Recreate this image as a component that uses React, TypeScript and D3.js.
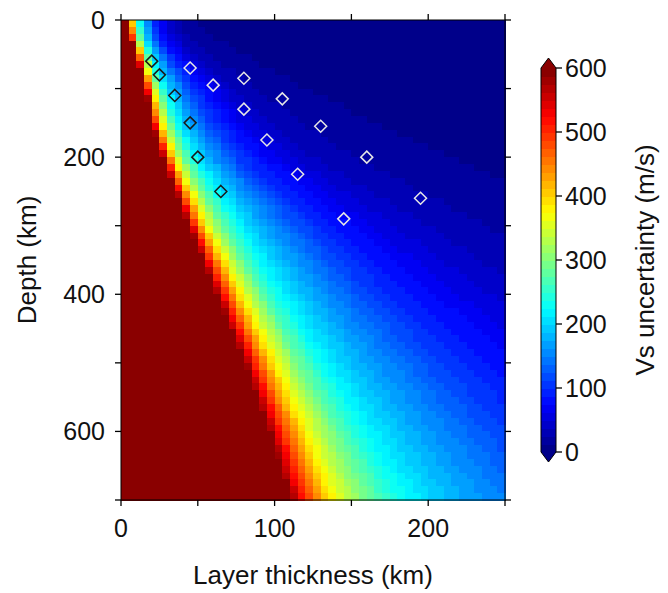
import React from "react";
import * as d3 from "d3";

// Depth knots (km) at which contour positions were read
const depthKnots = [0, 25, 50, 100, 150, 200, 300, 400, 500, 600, 700];
// Vs-uncertainty levels (m/s) of the read contours
const levels = [600, 375, 225, 150, 75, 37.5, 12.5];
// Layer thickness (km) where each level is reached, at each depth knot
const contour600 = [3.5, 6, 10, 16, 20, 27, 44, 62, 80, 96, 110];
const contour375 = [8, 10, 14, 21, 27, 35, 56, 79, 101, 121, 139];
const contour225 = [12.5, 15, 19, 29, 37, 48, 77, 104, 132, 160, 187];
const contour150 = [17, 20, 25, 39, 50, 64, 103, 139, 177, 214, 250];
const contour75 = [25, 29, 37, 57, 73, 94, 151, 204, 260, 315, 368];
const contour37 = [32, 38, 48, 74, 96, 125, 200, 268, 340, 410, 480];
const contour12 = [45, 62, 80, 120, 165, 215, 320, 420, 520, 620, 720];
const contours = [contour600, contour375, contour225, contour150, contour75, contour37, contour12];

// Grid
const thicknessStep = 5;
const depthStep = 10;
const thicknessMax = 250;
const depthMax = 700;

// Markers
const darkThickness = [20, 25, 35, 45, 50, 65];
const darkDepth = [60, 80, 110, 150, 200, 250];
const lightThickness = [45, 60, 80, 80, 105, 95, 130, 115, 160, 145, 195];
const lightDepth = [70, 95, 85, 130, 115, 175, 155, 225, 200, 290, 260];

// Ticks
const xTicks = [0, 50, 100, 150, 200, 250];
const xLabels = [0, 100, 200];
const yTicks = [0, 100, 200, 300, 400, 500, 600, 700];
const yLabels = [0, 200, 400, 600];
const cbTicks = [0, 100, 200, 300, 400, 500, 600];
const cbMax = 600;
const cbBands = 48;

const FONT = "'Liberation Sans', Arial, Helvetica, sans-serif";

function jet(t: number): string {
  const c = (v: number) => Math.max(0, Math.min(1, v));
  const r = c(1.5 - Math.abs(4 * t - 3));
  const g = c(1.5 - Math.abs(4 * t - 2));
  const b = c(1.5 - Math.abs(4 * t - 1));
  return d3.rgb(r * 255, g * 255, b * 255).formatHex();
}

const contourScales = contours.map((arr) =>
  d3.scaleLinear().domain(depthKnots).range(arr).clamp(true)
);

function valueAt(h: number, z: number): number {
  const p = contourScales.map((s) => s(z));
  if (h <= p[0]) return cbMax + 1;
  const last = p.length - 1;
  if (h >= p[last]) return levels[last] * Math.pow(p[last] / h, 2);
  for (let i = 0; i < last; i++) {
    if (h >= p[i] && h < p[i + 1]) {
      const f = Math.log(h / p[i]) / Math.log(p[i + 1] / p[i]);
      return Math.exp(Math.log(levels[i]) + f * (Math.log(levels[i + 1]) - Math.log(levels[i])));
    }
  }
  return 0;
}

function bandColor(v: number): string {
  const k = Math.max(0, Math.min(cbBands - 1, Math.floor(v / (cbMax / cbBands))));
  return jet((k + 0.5) / cbBands);
}

export default function App() {
  const W = 668;
  const H = 593;
  const x = d3.scaleLinear().domain([0, thicknessMax]).range([121, 505]);
  const y = d3.scaleLinear().domain([0, depthMax]).range([20, 500]);
  const cb = d3.scaleLinear().domain([0, cbMax]).range([452, 68]);
  const cbX0 = 541;
  const cbX1 = 556;

  const cells: JSX.Element[] = [];
  const nx = thicknessMax / thicknessStep;
  const nz = depthMax / depthStep;
  for (let i = 0; i < nx; i++) {
    for (let j = 0; j < nz; j++) {
      const h = (i + 0.5) * thicknessStep;
      const z = (j + 0.5) * depthStep;
      const x0 = x(i * thicknessStep);
      const x1 = x((i + 1) * thicknessStep);
      const y0 = y(j * depthStep);
      const y1 = y((j + 1) * depthStep);
      cells.push(
        <rect
          key={`c${i}-${j}`}
          x={x0}
          y={y0}
          width={x1 - x0 + 0.6}
          height={y1 - y0 + 0.6}
          fill={bandColor(valueAt(h, z))}
        />
      );
    }
  }

  const bands = d3.range(cbBands).map((k) => {
    const v0 = (k * cbMax) / cbBands;
    const v1 = ((k + 1) * cbMax) / cbBands;
    return (
      <rect
        key={`b${k}`}
        x={cbX0}
        y={cb(v1)}
        width={cbX1 - cbX0}
        height={cb(v0) - cb(v1) + 0.5}
        fill={jet((k + 0.5) / cbBands)}
      />
    );
  });

  const diamond = (cx: number, cy: number, r: number) =>
    `M${cx},${cy - r}L${cx + r},${cy}L${cx},${cy + r}L${cx - r},${cy}Z`;

  const tl = 6;
  return (
    <svg width={W} height={H} style={{ position: "absolute", left: 0, top: 0 }} fontFamily={FONT}>
      <rect x={0} y={0} width={W} height={H} fill="#fff" />
      <g shapeRendering="crispEdges">{cells}</g>
      {/* frame */}
      <rect x={x(0)} y={y(0)} width={x(thicknessMax) - x(0)} height={y(depthMax) - y(0)} fill="none" stroke="#000" strokeWidth={1} />
      {/* x ticks */}
      {xTicks.map((t) => (
        <g key={`xt${t}`} stroke="#000" strokeWidth={1.3}>
          <line x1={x(t)} x2={x(t)} y1={y(depthMax)} y2={y(depthMax) + tl} />
          <line x1={x(t)} x2={x(t)} y1={y(0)} y2={y(0) - tl} />
        </g>
      ))}
      {yTicks.map((t) => (
        <g key={`yt${t}`} stroke="#000" strokeWidth={1.3}>
          <line x1={x(0)} x2={x(0) - tl} y1={y(t)} y2={y(t)} />
          <line x1={x(thicknessMax)} x2={x(thicknessMax) + tl} y1={y(t)} y2={y(t)} />
        </g>
      ))}
      {xLabels.map((t) => (
        <text key={`xl${t}`} x={x(t)} y={537} fontSize={25} textAnchor="middle" fill="#111">
          {t}
        </text>
      ))}
      {yLabels.map((t) => (
        <text key={`yl${t}`} x={105} y={y(t)} dy="0.35em" fontSize={25} textAnchor="end" fill="#111">
          {t}
        </text>
      ))}
      <text x={(x(0) + x(thicknessMax)) / 2} y={584} fontSize={26} textAnchor="middle" fill="#111">
        Layer thickness (km)
      </text>
      <text transform={`translate(36,${(y(0) + y(depthMax)) / 2}) rotate(-90)`} fontSize={26} textAnchor="middle" fill="#111">
        Depth (km)
      </text>
      {/* markers */}
      {darkThickness.map((h, i) => (
        <path key={`d${i}`} d={diamond(x(h), y(darkDepth[i]), 6)} fill="none" stroke="#1a1a1a" strokeWidth={1.5} />
      ))}
      {lightThickness.map((h, i) => (
        <path key={`l${i}`} d={diamond(x(h), y(lightDepth[i]), 6)} fill="none" stroke="#e6e6e6" strokeWidth={1.5} />
      ))}
      {/* colorbar */}
      <g shapeRendering="crispEdges">{bands}</g>
      <path
        d={`M${cbX0},${cb(cbMax)}L${(cbX0 + cbX1) / 2},${cb(cbMax) - 10}L${cbX1},${cb(cbMax)}Z`}
        fill={jet((cbBands - 0.5) / cbBands)}
      />
      <path
        d={`M${cbX0},${cb(0)}L${(cbX0 + cbX1) / 2},${cb(0) + 10}L${cbX1},${cb(0)}Z`}
        fill={jet(0.5 / cbBands)}
      />
      <path
        d={`M${cbX0},${cb(cbMax)}L${(cbX0 + cbX1) / 2},${cb(cbMax) - 10}L${cbX1},${cb(cbMax)}L${cbX1},${cb(0)}L${(cbX0 + cbX1) / 2},${cb(0) + 10}L${cbX0},${cb(0)}Z`}
        fill="none"
        stroke="#000"
        strokeWidth={1}
      />
      {cbTicks.map((t) => (
        <g key={`cb${t}`}>
          <line x1={cbX1} x2={cbX1 + 6} y1={cb(t)} y2={cb(t)} stroke="#000" strokeWidth={1.3} />
          <text x={565} y={cb(t)} dy="0.35em" fontSize={25} fill="#111">
            {t}
          </text>
        </g>
      ))}
      <text transform={`translate(654,${(cb(0) + cb(cbMax)) / 2}) rotate(-90)`} fontSize={26} textAnchor="middle" fill="#111">
        Vs uncertainty (m/s)
      </text>
    </svg>
  );
}
